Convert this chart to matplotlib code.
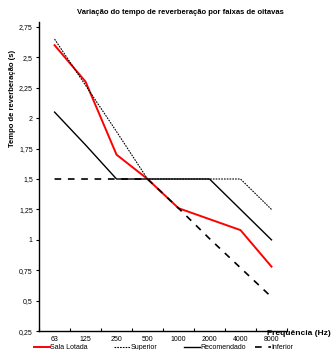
import matplotlib
matplotlib.use("Agg")
import matplotlib.pyplot as plt

# octave bands and reverberation times (s)
bandas = ["63", "125", "250", "500", "1000", "2000", "4000", "8000"]
sala_lotada = [2.60, 2.30, 1.70, 1.50, 1.26, 1.17, 1.08, 0.78]
superior = [2.65, 2.27, 1.89, 1.50, 1.50, 1.50, 1.50, 1.25]
recomendado = [2.05, 1.78, 1.50, 1.50, 1.50, 1.50, 1.25, 1.00]
inferior = [1.50, 1.50, 1.50, 1.50, 1.26, 1.01, 0.77, 0.53]

yticks = [0.25, 0.5, 0.75, 1, 1.25, 1.5, 1.75, 2, 2.25, 2.5, 2.75]
ytick_labels = ["0,25", "0,5", "0,75", "1", "1,25", "1,5", "1,75", "2", "2,25", "2,5", "2,75"]

plt.rcParams["font.family"] = ["Liberation Sans", "DejaVu Sans"]

fig = plt.figure(figsize=(3.31, 3.50), dpi=100)
ax = fig.add_axes([0.118, 0.054, 0.749, 0.883])

x = list(range(len(bandas)))
lines = []
lines += ax.plot(x, sala_lotada, color="#ff0000", linewidth=1.4, label="Sala Lotada")
lines += ax.plot(x, superior, color="black", linewidth=0.8, linestyle=(0, (1.5, 1.0)), label="Superior")
lines += ax.plot(x, recomendado, color="black", linewidth=1.0, label="Recomendado")
lines += ax.plot(x, inferior, color="black", linewidth=1.2, linestyle=(0, (4, 4)), label="Inferior")

ax.set_xlim(-0.5, len(bandas) - 0.5)
ax.set_ylim(0.25, 2.79)

# category boundaries as tick marks, labels centred on categories
ax.set_xticks([i - 0.5 for i in range(len(bandas) + 1)])
ax.set_xticklabels([])
ax.set_xticks(x, minor=True)
ax.set_xticklabels(bandas, minor=True)
ax.tick_params(axis="x", which="major", direction="in", length=2.5, width=0.8)
ax.tick_params(axis="x", which="minor", length=0, labelsize=5, pad=3.5)

ax.set_yticks(yticks)
ax.set_yticklabels(ytick_labels)
ax.tick_params(axis="y", direction="out", length=2.5, width=0.8, labelsize=5, pad=2)

for side in ["top", "right"]:
    ax.spines[side].set_visible(False)
for side in ["left", "bottom"]:
    ax.spines[side].set_linewidth(1.0)

fig.text(0.545, 0.964, "Variação do tempo de reverberação por faixas de oitavas",
         ha="center", va="center", fontsize=5.5, fontweight="bold")
fig.text(0.037, 0.72, "Tempo de reverberação (s)", rotation=90,
         ha="center", va="center", fontsize=5.5, fontweight="bold")
fig.text(1.0, 0.048, "Frequência (Hz)", ha="right", va="center",
         fontsize=6, fontweight="bold")

# legend entries placed one by one along the bottom edge
leg_x = [0.093, 0.335, 0.548, 0.762]
for handle, lx in zip(lines, leg_x):
    fig.legend(handles=[handle], loc="lower left", bbox_to_anchor=(lx, -0.012),
               frameon=False, fontsize=5, handlelength=2.3, handletextpad=0.1,
               borderaxespad=0)

fig.savefig("out.png", dpi=100)
